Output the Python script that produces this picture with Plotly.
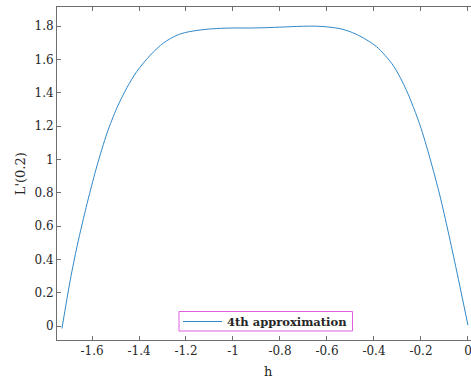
import plotly.graph_objects as go

# Sampled curve L'(0.2) against h (4th approximation)
h_vals = [-1.728, -1.692, -1.664, -1.643, -1.614, -1.579, -1.536, -1.494, -1.451,
          -1.409, -1.352, -1.295, -1.238, -1.196, -1.140, -1.069, -1.000, -0.928,
          -0.860, -0.786, -0.715, -0.650, -0.601, -0.545, -0.500, -0.460, -0.389,
          -0.318, -0.261, -0.204, -0.162, -0.119, -0.084, -0.048, 0.0]
L_vals = [-0.015, 0.280, 0.476, 0.606, 0.774, 0.960, 1.158, 1.309, 1.431,
          1.528, 1.625, 1.699, 1.745, 1.763, 1.776, 1.785, 1.788, 1.788,
          1.790, 1.794, 1.798, 1.799, 1.795, 1.784, 1.765, 1.740, 1.676,
          1.563, 1.412, 1.205, 1.008, 0.780, 0.565, 0.330, 0.005]

x_ticks = [-1.6, -1.4, -1.2, -1.0, -0.8, -0.6, -0.4, -0.2, 0.0]
x_tick_text = ["-1.6", "-1.4", "-1.2", "-1", "-0.8", "-0.6", "-0.4", "-0.2", "0"]
y_ticks = [0, 0.2, 0.4, 0.6, 0.8, 1.0, 1.2, 1.4, 1.6, 1.8]
y_tick_text = ["0", "0.2", "0.4", "0.6", "0.8", "1", "1.2", "1.4", "1.6", "1.8"]
series_name = "4th approximation"

serif = "DejaVu Serif"
axis_col = "#6e6e6e"
text_col = "#262626"
line_col = "#2f88c8"

W, H = 471, 383
ML, MR, MT, MB = 57, 0, 7, 43
PW, PH = W - ML - MR, H - MT - MB


def px_x(p):
    """pixel column -> paper x"""
    return (p - ML) / PW


def px_y(p):
    """pixel row -> paper y"""
    return (H - MB - p) / PH


fig = go.Figure()
fig.add_trace(go.Scatter(
    x=h_vals, y=L_vals, mode="lines", name=series_name, showlegend=False,
    line=dict(color=line_col, width=1, shape="spline", smoothing=0.8),
))

axis_common = dict(
    showgrid=False, zeroline=False, showline=True, linecolor=axis_col, linewidth=1,
    ticks="inside", ticklen=4, tickcolor=axis_col, tickwidth=1,
    tickfont=dict(family=serif, size=12, color=text_col),
    ticklabeloverflow="allow",
)

# legend box drawn in pixel terms
lg_x0, lg_x1, lg_y0, lg_y1 = 179, 352.5, 311.5, 331
shapes = [
    dict(type="rect", xref="paper", yref="paper",
         x0=px_x(lg_x0), x1=px_x(lg_x1), y0=px_y(lg_y1), y1=px_y(lg_y0),
         line=dict(color="#e060e0", width=1), fillcolor="white", layer="above"),
    dict(type="line", xref="paper", yref="paper",
         x0=px_x(183), x1=px_x(222), y0=px_y(321.5), y1=px_y(321.5),
         line=dict(color=line_col, width=1), layer="above"),
]

annotations = [
    dict(text="<b>" + series_name + "</b>", x=px_x(225), y=px_y(321.5),
         xref="paper", yref="paper", xanchor="left", yanchor="middle",
         showarrow=False, font=dict(family=serif, size=11.5, color=text_col)),
    dict(text="h", x=px_x(268), y=px_y(371.5), xref="paper", yref="paper",
         xanchor="center", yanchor="middle", showarrow=False,
         font=dict(family=serif, size=13, color=text_col)),
    dict(text="L'(0.2)", x=px_x(20.7), y=px_y(173.5), xref="paper", yref="paper",
         xanchor="center", yanchor="middle", textangle=-90, showarrow=False,
         font=dict(family=serif, size=13, color=text_col)),
]

fig.update_layout(
    width=W, height=H,
    margin=dict(l=ML, r=MR, t=MT, b=MB),
    plot_bgcolor="white", paper_bgcolor="white",
    showlegend=False,
    xaxis=dict(range=[-1.749, 0.013], tickvals=x_ticks, ticktext=x_tick_text,
               mirror="ticks", **axis_common),
    yaxis=dict(range=[-0.084, 1.914], tickvals=y_ticks, ticktext=y_tick_text,
               mirror=False, **axis_common),
    shapes=shapes,
    annotations=annotations,
)

fig.write_html("out.html")
